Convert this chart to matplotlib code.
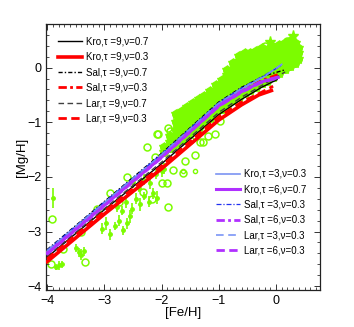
import matplotlib
matplotlib.use("Agg")
import matplotlib.pyplot as plt
from matplotlib.ticker import MultipleLocator

plt.rcParams['font.family'] = ['Liberation Sans', 'DejaVu Sans']

GREEN = '#7CFC00'

# ---------------- observational data (read from the picture) ----------------
# dense high-metallicity cloud
cloud_fe = [
    -1.95, -1.95,
    -1.85, -1.85, -1.85,
    -1.75, -1.75, -1.75, -1.75, -1.75,
    -1.65, -1.65, -1.65, -1.65, -1.65,
    -1.55, -1.55, -1.55, -1.55, -1.55, -1.55,
    -1.45, -1.45, -1.45, -1.45, -1.45, -1.45,
    -1.35, -1.35, -1.35, -1.35, -1.35, -1.35,
    -1.25, -1.25, -1.25, -1.25, -1.25, -1.25,
    -1.15, -1.15, -1.15, -1.15, -1.15, -1.15,
    -1.05, -1.05, -1.05, -1.05, -1.05, -1.05,
    -0.95, -0.95, -0.95, -0.95, -0.95, -0.95,
    -0.85, -0.85, -0.85, -0.85, -0.85, -0.85, -0.85,
    -0.75, -0.75, -0.75, -0.75, -0.75, -0.75, -0.75,
    -0.65, -0.65, -0.65, -0.65, -0.65, -0.65, -0.65, -0.65,
    -0.55, -0.55, -0.55, -0.55, -0.55, -0.55, -0.55, -0.55,
    -0.45, -0.45, -0.45, -0.45, -0.45, -0.45, -0.45,
    -0.35, -0.35, -0.35, -0.35, -0.35, -0.35, -0.35,
    -0.25, -0.25, -0.25, -0.25, -0.25, -0.25, -0.25,
    -0.15, -0.15, -0.15, -0.15, -0.15, -0.15,
    -0.05, -0.05, -0.05, -0.05, -0.05, -0.05,
    0.05, 0.05, 0.05, 0.05, 0.05, 0.05,
    0.15, 0.15, 0.15, 0.15, 0.15, 0.15,
    0.25, 0.25, 0.25, 0.25, 0.25, 0.25,
    0.33, 0.33, 0.33, 0.33, 0.33,
    0.38, 0.38, 0.38,
]
cloud_mg = [
    -1.55, -1.45,
    -1.48, -1.36, -1.25,
    -1.40, -1.28, -1.15, -1.00, -0.85,
    -1.32, -1.20, -1.05, -0.92, -0.80,
    -1.24, -1.12, -1.00, -0.90, -0.80, -0.72,
    -1.16, -1.04, -0.93, -0.83, -0.73, -0.65,
    -1.08, -0.96, -0.86, -0.76, -0.67, -0.58,
    -1.00, -0.88, -0.78, -0.68, -0.60, -0.52,
    -0.92, -0.80, -0.70, -0.60, -0.50, -0.42,
    -0.84, -0.72, -0.62, -0.52, -0.42, -0.32,
    -0.76, -0.64, -0.54, -0.44, -0.33, -0.22,
    -0.68, -0.57, -0.46, -0.35, -0.24, -0.14, -0.05,
    -0.60, -0.49, -0.38, -0.27, -0.16, -0.04, 0.08,
    -0.53, -0.42, -0.31, -0.20, -0.09, 0.02, 0.12, 0.21,
    -0.47, -0.36, -0.25, -0.14, -0.03, 0.08, 0.18, 0.27,
    -0.41, -0.30, -0.18, -0.06, 0.06, 0.17, 0.27,
    -0.35, -0.24, -0.12, 0.00, 0.12, 0.22, 0.31,
    -0.29, -0.18, -0.06, 0.06, 0.17, 0.27, 0.35,
    -0.24, -0.12, 0.00, 0.12, 0.23, 0.33,
    -0.18, -0.06, 0.06, 0.17, 0.28, 0.37,
    -0.10, 0.01, 0.13, 0.24, 0.33, 0.41,
    -0.03, 0.08, 0.19, 0.29, 0.38, 0.45,
    0.03, 0.14, 0.25, 0.34, 0.43, 0.49,
    0.08, 0.18, 0.28, 0.38, 0.45,
    0.15, 0.26, 0.36,
]
# stars
star_fe = [0.30, -0.10]
star_mg = [0.58, 0.46]

# open circles
circ_fe = [-3.91, -3.93, -3.72, -3.33, -2.90, -3.13, -1.88, -1.91, -2.32,
           -2.06, -1.85, -1.50, -1.80, -2.00, -1.62, -1.33, -1.82, -2.11,
           -2.26, -2.17, -0.98, -1.06, -1.19, -1.27, -1.41, -1.59, -2.08,
           -1.88, -1.73, -0.19, 0.19, -2.60, -3.40, -2.75]
circ_mg = [-2.77, -3.59, -3.31, -3.55, -2.30, -2.58, -2.55, -2.12, -2.27,
           -1.21, -1.16, -1.32, -1.87, -2.11, -1.92, -1.37, -1.28, -1.63,
           -1.46, -2.40, -0.98, -1.22, -1.25, -1.37, -1.59, -1.71, -1.22,
           -1.10, -1.07, 0.40, 0.49, -2.00, -3.00, -2.45]
# tiny circles
tiny_fe = [-1.62, -1.41]
tiny_mg = [-1.90, -1.90]

# points with error bars (low metallicity)
err_fe = [-3.90, -3.85, -3.80, -3.74, -3.50, -3.45, -3.40, -3.35,
          -3.05, -2.98, -2.90, -2.82, -2.75, -2.68, -2.60, -2.55,
          -2.78, -2.70, -2.62, -2.52, -2.45, -2.38, -2.30, -2.22, -2.15, -2.08,
          -2.50, -2.40, -2.30, -2.20, -2.10, -2.00, -1.95]
err_mg = [-2.38, -3.65, -3.62, -3.60, -3.30, -3.38, -3.42, -3.36,
          -2.95, -2.85, -3.05, -2.90, -2.80, -2.98, -2.85, -2.72,
          -2.55, -2.62, -2.45, -2.58, -2.40, -2.50, -2.35, -2.45, -2.30, -2.38,
          -2.10, -2.20, -2.05, -2.12, -1.95, -1.90, -1.85]
err_dy = [0.18, 0.06, 0.08, 0.06, 0.08, 0.08, 0.10, 0.08,
          0.10, 0.12, 0.10, 0.08, 0.10, 0.08, 0.10, 0.12,
          0.10, 0.08, 0.12, 0.10, 0.10, 0.12, 0.08, 0.10, 0.10, 0.12,
          0.10, 0.08, 0.10, 0.10, 0.08, 0.10, 0.10]

# ---------------- chemical evolution models ----------------
m_fe = {
    'Kro9_07': [-4.0, -3.0, -2.0, -1.0, -0.6, -0.25, 0.02],
    'Kro9_03': [-4.0, -3.0, -2.0, -1.0, -0.6, -0.3, -0.08],
    'Sal9_07': [-4.0, -3.0, -2.0, -1.0, -0.6, -0.2, 0.16],
    'Sal9_03': [-4.0, -3.0, -2.0, -1.0, -0.6, -0.25, 0.05],
    'Lar9_07': [-4.0, -3.0, -2.0, -1.0, -0.6, -0.2, 0.16],
    'Lar9_03': [-4.0, -3.0, -2.0, -1.0, -0.6, -0.25, -0.05],
    'Kro3_03': [-4.0, -3.0, -2.0, -1.0, -0.6, -0.2, 0.10],
    'Kro6_07': [-4.0, -3.0, -2.0, -1.0, -0.6, -0.25, 0.04],
    'Sal3_03': [-4.0, -3.0, -2.0, -1.0, -0.6, -0.2, 0.10],
    'Sal6_03': [-4.0, -3.0, -2.0, -1.0, -0.6, -0.25, 0.04],
    'Lar3_03': [-4.0, -3.0, -2.0, -1.0, -0.6, -0.2, 0.10],
    'Lar6_03': [-4.0, -3.0, -2.0, -1.0, -0.6, -0.25, 0.04],
}
m_mg = {
    'Kro9_07': [-3.47, -2.60, -1.76, -0.86, -0.58, -0.36, -0.22],
    'Kro9_03': [-3.55, -2.68, -1.85, -0.96, -0.68, -0.50, -0.42],
    'Sal9_07': [-3.33, -2.45, -1.57, -0.63, -0.36, -0.15, -0.04],
    'Sal9_03': [-3.38, -2.50, -1.62, -0.68, -0.42, -0.24, -0.12],
    'Lar9_07': [-3.45, -2.58, -1.73, -0.82, -0.54, -0.30, -0.08],
    'Lar9_03': [-3.50, -2.63, -1.80, -0.90, -0.63, -0.45, -0.34],
    'Kro3_03': [-3.36, -2.48, -1.60, -0.66, -0.39, -0.16, 0.06],
    'Kro6_07': [-3.40, -2.52, -1.64, -0.70, -0.44, -0.26, -0.18],
    'Sal3_03': [-3.34, -2.46, -1.58, -0.64, -0.37, -0.14, 0.04],
    'Sal6_03': [-3.39, -2.51, -1.63, -0.69, -0.43, -0.25, -0.17],
    'Lar3_03': [-3.35, -2.47, -1.59, -0.65, -0.38, -0.15, 0.05],
    'Lar6_03': [-3.41, -2.53, -1.65, -0.71, -0.45, -0.27, -0.19],
}
labels1 = ['Kro,τ =9,ν=0.7', 'Kro,τ =9,ν=0.3', 'Sal,τ =9,ν=0.7',
           'Sal,τ =9,ν=0.3', 'Lar,τ =9,ν=0.7', 'Lar,τ =9,ν=0.3']
keys1 = ['Kro9_07', 'Kro9_03', 'Sal9_07', 'Sal9_03', 'Lar9_07', 'Lar9_03']
labels2 = ['Kro,τ =3,ν=0.3', 'Kro,τ =6,ν=0.7', 'Sal,τ =3,ν=0.3',
           'Sal,τ =6,ν=0.3', 'Lar,τ =3,ν=0.3', 'Lar,τ =6,ν=0.3']
keys2 = ['Kro3_03', 'Kro6_07', 'Sal3_03', 'Sal6_03', 'Lar3_03', 'Lar6_03']

styles = {
    'Kro9_07': dict(color='black', lw=1.0, ls='-'),
    'Kro9_03': dict(color='#ff0000', lw=2.6, ls='-'),
    'Sal9_07': dict(color='black', lw=1.0, ls=(0, (3, 1.5, 1, 1.5))),
    'Sal9_03': dict(color='#ff0000', lw=2.0, ls=(0, (3, 1.2, 1, 1.2))),
    'Lar9_07': dict(color='#404040', lw=1.0, ls=(0, (4, 2.5))),
    'Lar9_03': dict(color='#ff0000', lw=2.0, ls=(0, (3, 1.6))),
    'Kro3_03': dict(color='#7b93f2', lw=1.2, ls='-'),
    'Kro6_07': dict(color='#b030ff', lw=2.2, ls='-'),
    'Sal3_03': dict(color='#2030f0', lw=0.9, ls=(0, (4, 1.5, 1, 1.5))),
    'Sal6_03': dict(color='#b030ff', lw=2.0, ls=(0, (3, 1.2, 1, 1.2))),
    'Lar3_03': dict(color='#6f8cf5', lw=1.1, ls=(0, (5, 3))),
    'Lar6_03': dict(color='#b030ff', lw=2.0, ls=(0, (3, 1.6))),
}

# ---------------- figure ----------------
fig = plt.figure(figsize=(3.54, 3.27), dpi=100)
ax = fig.add_axes([0.130, 0.113, 0.774, 0.814])

ax.plot(cloud_fe, cloud_mg, ls='none', marker='o', ms=5.5, mfc=GREEN, mec=GREEN, zorder=1)
ax.plot(cloud_fe, cloud_mg, ls='none', marker='*', ms=7, mfc=GREEN, mec=GREEN, zorder=1)
ax.plot(star_fe, star_mg, ls='none', marker='*', ms=8, mfc=GREEN, mec=GREEN, zorder=1)
ax.plot(circ_fe, circ_mg, ls='none', marker='o', ms=5, mfc='none', mec=GREEN, mew=1.1, zorder=1)
ax.plot(tiny_fe, tiny_mg, ls='none', marker='o', ms=3, mfc='none', mec=GREEN, mew=1.0, zorder=1)
ax.errorbar(err_fe, err_mg, yerr=err_dy, fmt='o', ms=2.5, color=GREEN, ecolor=GREEN,
            elinewidth=1.2, capsize=0, zorder=1)

h1 = []
for k, lab in zip(keys1, labels1):
    h1 += ax.plot(m_fe[k], m_mg[k], label=lab, zorder=3, **styles[k])
h2 = []
for k, lab in zip(keys2, labels2):
    h2 += ax.plot(m_fe[k], m_mg[k], label=lab, zorder=3, **styles[k])

ax.set_xlim(-4.02, 0.77)
ax.set_ylim(-4.07, 0.8)
ax.xaxis.set_major_locator(MultipleLocator(1))
ax.xaxis.set_minor_locator(MultipleLocator(0.1))
ax.yaxis.set_major_locator(MultipleLocator(1))
ax.yaxis.set_minor_locator(MultipleLocator(0.2))
ax.tick_params(which='both', direction='in', top=True, right=True, labelsize=9,
               color='#333333')
ax.tick_params(which='major', length=4, width=0.7)
ax.tick_params(which='minor', length=2, width=0.6)
for s in ax.spines.values():
    s.set_color('#222222')
    s.set_linewidth(0.9)

ax.set_xlabel('[Fe/H]', fontsize=9.5, labelpad=0)
ax.set_ylabel('[Mg/H]', fontsize=9.5, labelpad=-1)

leg1 = ax.legend(handles=h1, loc='upper left', bbox_to_anchor=(0.044, 0.952),
                 frameon=False, fontsize=7, handlelength=2.5, handletextpad=0.4,
                 labelspacing=0.55, borderpad=0, borderaxespad=0)
ax.add_artist(leg1)
ax.legend(handles=h2, loc='upper left', bbox_to_anchor=(0.62, 0.455),
          frameon=False, fontsize=7, handlelength=2.5, handletextpad=0.4,
          labelspacing=0.55, borderpad=0, borderaxespad=0)

fig.savefig('out.png', dpi=100)
